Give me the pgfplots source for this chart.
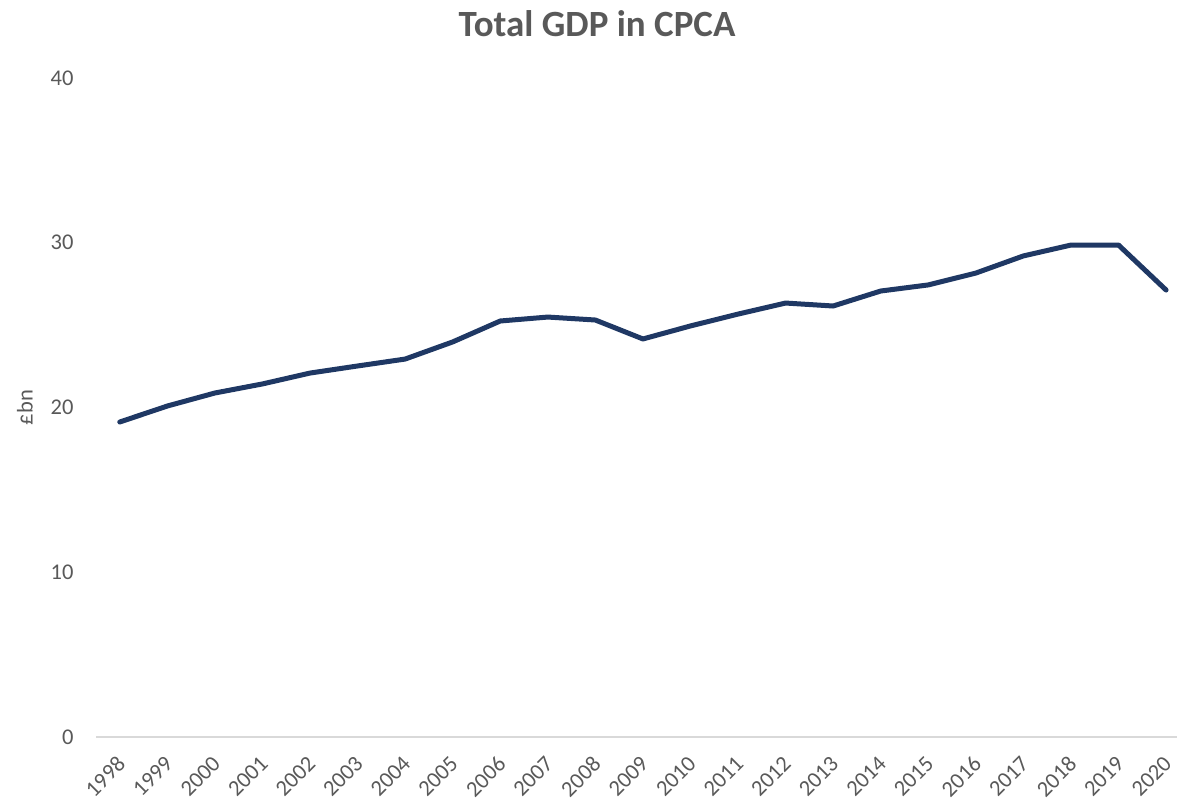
\documentclass[border=0pt]{standalone}
\usepackage{pgfplots}
\pgfplotsset{compat=1.18}
\usepackage{fontspec}
\setmainfont{Carlito}
\definecolor{navy}{HTML}{1F3864}
\definecolor{txt}{HTML}{595959}
\definecolor{axl}{HTML}{D9D9D9}
\begin{document}
\begin{tikzpicture}
\useasboundingbox (0,0) rectangle (1177pt,803pt);
\begin{axis}[
  at={(96pt,66pt)}, anchor=south west,
  scale only axis,
  width=1081pt, height=659pt,
  xmin=-0.5, xmax=22.23,
  ymin=0, ymax=40,
  ytick={0,10,20,30,40},
  xtick={0,...,22},
  xticklabels={1998,1999,2000,2001,2002,2003,2004,2005,2006,2007,2008,2009,2010,2011,2012,2013,2014,2015,2016,2017,2018,2019,2020},
  axis x line=bottom, axis y line=left,
  x axis line style={-, draw=axl, line width=1.5pt},
  y axis line style={draw=none},
  major tick length=0pt,
  tick style={draw=none},
  /pgf/number format/assume math mode=true,
  xticklabel style={xshift=4pt, yshift=-21pt, rotate=45, anchor=east, font=\fontsize{22.5}{24}\selectfont, text=txt},
  yticklabel style={anchor=east, font=\fontsize{22.5}{24}\selectfont, text=txt, xshift=-19pt},
  ylabel={£bn},
  ylabel style={font=\fontsize{22.5}{24}\selectfont, text=txt, at={(axis description cs:-0.0657,0.5)}, anchor=center},
  title={Total GDP in CPCA},
  title style={font=\bfseries\fontsize{37}{40}\selectfont, text=txt, at={(axis description cs:0.4635,1)}, anchor=center, yshift=48pt},
  clip=false,
]
\addplot[navy, line width=5pt, line join=round, line cap=round] coordinates {
(0,19.12) (1,20.09) (2,20.88) (3,21.43) (4,22.09) (5,22.52) (6,22.94) (7,23.98)
(8,25.25) (9,25.49) (10,25.31) (11,24.16) (12,24.95) (13,25.67) (14,26.34)
(15,26.16) (16,27.07) (17,27.44) (18,28.16) (19,29.20) (20,29.86) (21,29.86) (22,27.13)
};
\end{axis}
\end{tikzpicture}
\end{document}
